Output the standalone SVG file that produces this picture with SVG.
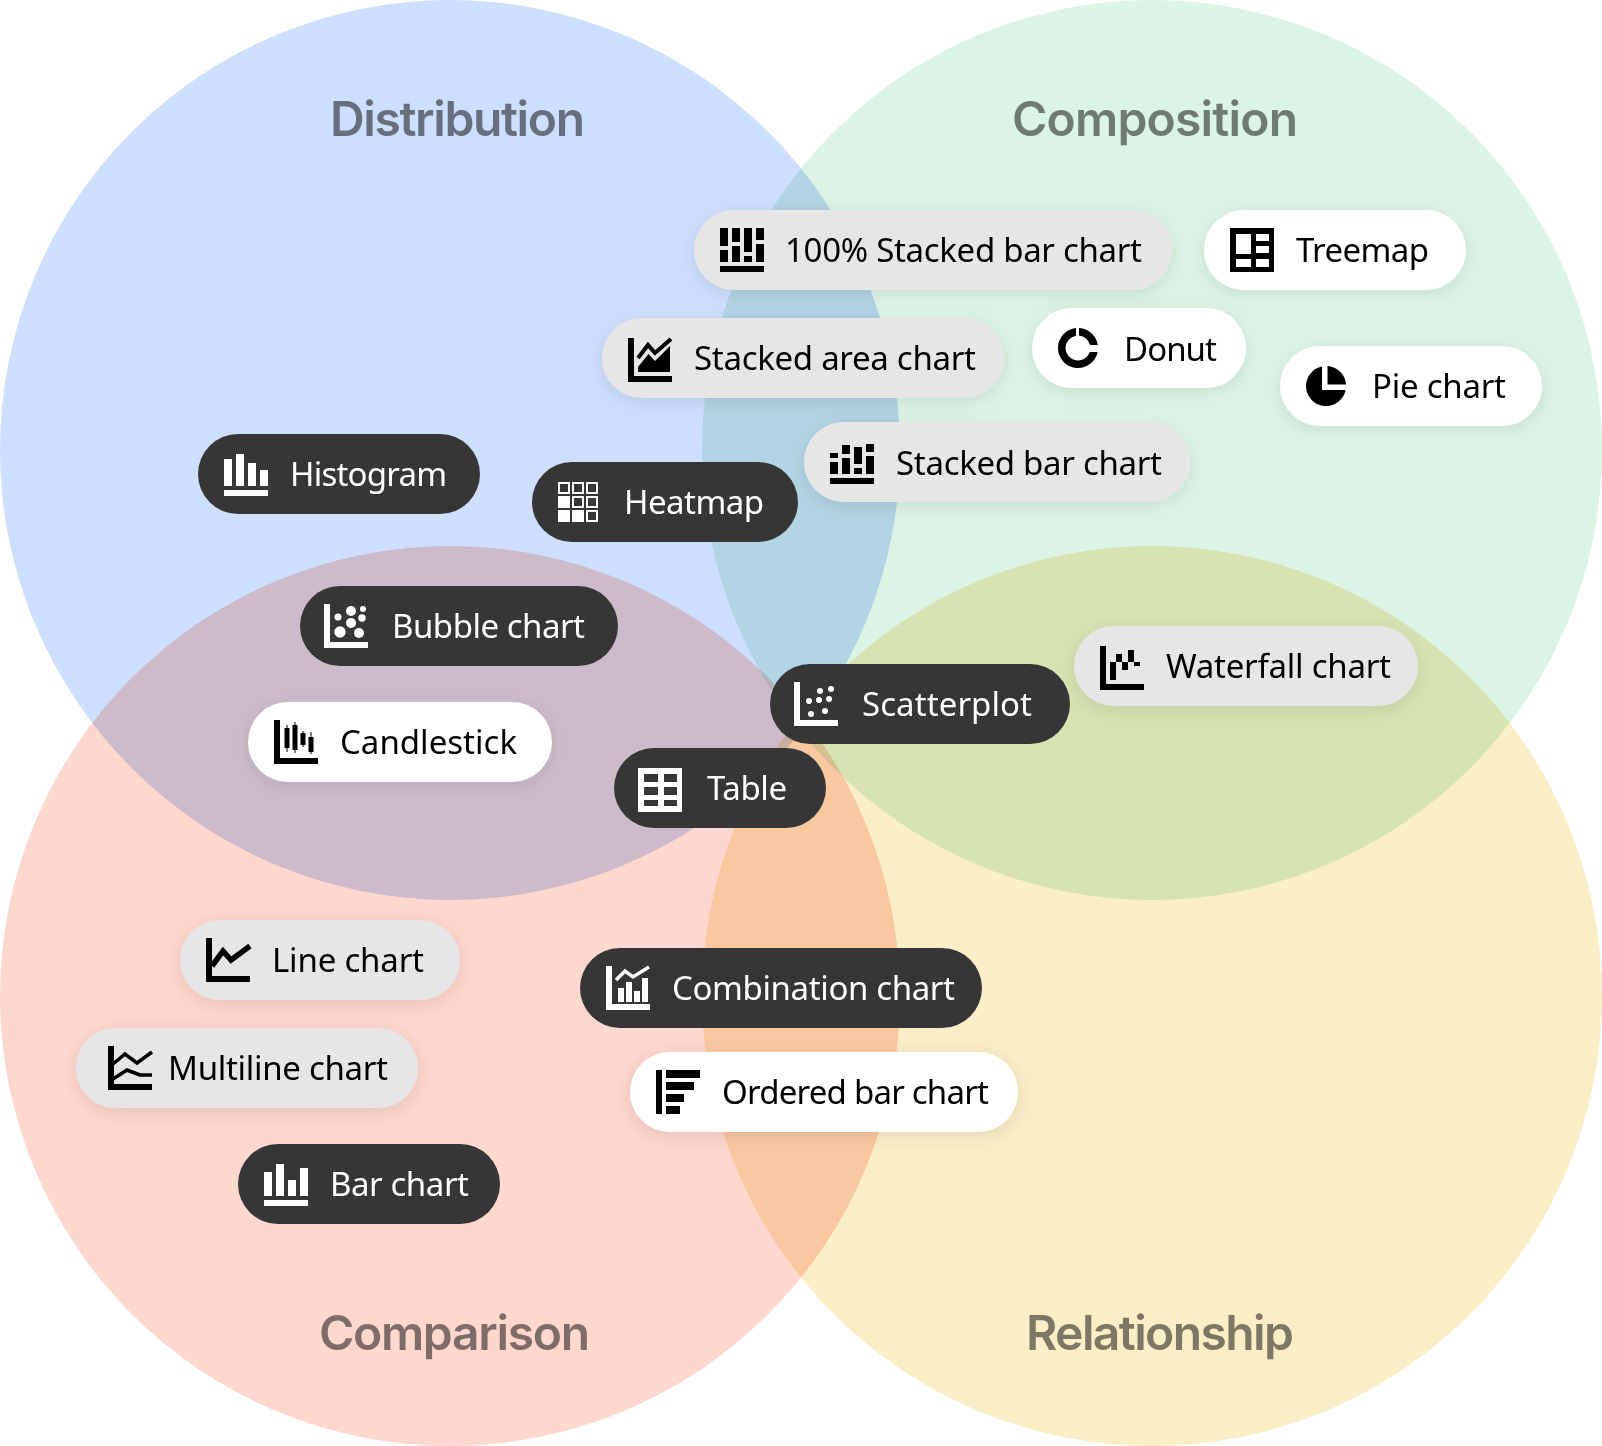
<svg xmlns="http://www.w3.org/2000/svg" width="1602" height="1446" viewBox="0 0 1602 1446">
<style>
.c{mix-blend-mode:multiply}
.t{font-family:"Inter","Liberation Sans",sans-serif;font-size:48px;font-weight:600;fill:#000;fill-opacity:.5}
.l{font-family:"Noto Sans","Liberation Sans",sans-serif;font-size:33px;font-weight:400}
.dark rect.p{fill:#363636}.dark{color:#fff}.dark .l{fill:#fff}
.gray rect.p{fill:#e6e6e6;filter:url(#sh)}.gray{color:#000}.gray .l{fill:#000}
.white rect.p{fill:#fff;filter:url(#sh)}.white{color:#000}.white .l{fill:#000}
.i{fill:currentColor}
.s{fill:none;stroke:currentColor}
</style>
<defs>
<filter id="sh" x="-20%" y="-50%" width="140%" height="200%"><feDropShadow dx="0" dy="4" stdDeviation="9" flood-color="#000" flood-opacity=".1"/></filter>
<path id="axis" d="M0 0h6v38h38v6H0z"/>
<symbol id="i100" viewBox="0 0 44 44" overflow="visible"><path class="i" d="M0 38h44v6H0zM0 0h8v18H0zM0 22h8v12H0zM12 0h8v14h-8zM12 18h8v16h-8zM24 0h8v24h-8zM24 28h8v6h-8zM36 0h8v12h-8zM36 16h8v18h-8z"/></symbol>
<symbol id="istack" viewBox="0 0 44 44" overflow="visible"><path class="i" d="M0 38h44v6H0zM0 13h8v5H0zM0 22h8v12H0zM12 5h8v9h-8zM12 18h8v16h-8zM24 7h8v17h-8zM24 28h8v6h-8zM36 4h8v8h-8zM36 16h8v18h-8z"/></symbol>
<symbol id="ihist" viewBox="0 0 44 44" overflow="visible"><path class="i" d="M0 38h44v6H0zM0 7h8v27H0zM12 2h8v32h-8zM24 11h8v23h-8zM36 18h8v16h-8z"/></symbol>
<symbol id="ibar" viewBox="0 0 44 44" overflow="visible"><path class="i" d="M0 38h44v6H0zM0 10h8v24H0zM12 2h8v32h-8zM24 18h8v16h-8zM36 6h8v28h-8z"/></symbol>
<symbol id="iheat" viewBox="0 0 40 40" overflow="visible"><g class="s" stroke-width="2"><rect x="1" y="1" width="10" height="10"/><rect x="15" y="1" width="10" height="10"/><rect x="29" y="1" width="10" height="10"/><rect x="15" y="15" width="10" height="10"/><rect x="29" y="15" width="10" height="10"/><rect x="29" y="29" width="10" height="10"/></g><path class="i" d="M0 14h12v12H0zM0 28h12v12H0zM14 28h12v12H14z"/></symbol>
<symbol id="itree" viewBox="0 0 44 44" overflow="visible"><path class="i" fill-rule="evenodd" d="M0 0h44v44H0zM6 6v20h15V6zM26 6v7h13V6zM26 18v7h13v-7zM6 31v8h15v-8zM26 31v8h13v-8z"/></symbol>
<symbol id="itable" viewBox="0 0 44 44" overflow="visible"><path class="i" fill-rule="evenodd" d="M0 0h44v44H0zM6 6v8h14V6zM26 6v8h13V6zM6 19v8h14v-8zM26 19v8h13v-8zM6 32v6h14v-6zM26 32v6h13v-6z"/></symbol>
<symbol id="ipie" viewBox="0 0 40 40" overflow="visible"><path class="i" d="M16 .4A20 20 0 1 0 39.6 24H16zM21.5 0A20 20 0 0 1 40 18.5H21.5z"/></symbol>
<symbol id="idonut" viewBox="0 0 40 40" overflow="visible"><path class="i" d="M21 0A20 20 0 0 1 39.77 17H32.1A12.5 12.5 0 0 0 21 7.54zM39.6 24A20 20 0 1 1 18 .1V7.66A12.5 12.5 0 1 0 31.84 24z"/></symbol>
<symbol id="iline" viewBox="0 0 44 44" overflow="visible"><use href="#axis" class="i"/><path class="s" stroke-width="5.500" d="M6 28 17 13l8 9L44 8"/></symbol>
<symbol id="imulti" viewBox="0 0 44 44" overflow="visible"><use href="#axis" class="i"/><path class="s" stroke-width="3.500" d="M5 18 17 8l12 9L44 6M5 33 19 24l13 5h12"/></symbol>
<symbol id="iarea" viewBox="0 0 44 44" overflow="visible"><use href="#axis" class="i"/><path class="i" d="M10 29 20.500 16l6.500 7L42 8v26H10z"/><path class="s" stroke-width="4" d="M10 20 20 7l7 8L43 1"/></symbol>
<symbol id="icombo" viewBox="0 0 44 44" overflow="visible"><use href="#axis" class="i"/><path class="i" d="M12 22h6v14h-6zM20 16h6v20h-6zM28 25h6v11h-6zM36 12h6v24h-6z"/><path class="s" stroke-width="3.500" d="M10 14 19 5l8 6L43 1"/></symbol>
<symbol id="iorder" viewBox="0 0 44 44" overflow="visible"><path class="i" d="M0 0h6v44H0zM10 0h34v8H10zM10 12h28v8H10zM10 24h18v8H10zM10 36h14v8H10z"/></symbol>
<symbol id="iwater" viewBox="0 0 44 44" overflow="visible"><use href="#axis" class="i"/><path class="i" d="M10 16h6v18h-6zM16 8h6v8h-6zM22 16h6v8h-6zM28 4h6v12h-6zM34 16h6v4h-6z"/></symbol>
<symbol id="iscat" viewBox="0 0 44 44" overflow="visible"><use href="#axis" class="i"/><g class="i"><circle cx="26" cy="9" r="3"/><circle cx="37" cy="7" r="3"/><circle cx="15" cy="19" r="3"/><circle cx="25" cy="18" r="3"/><circle cx="35" cy="17" r="3"/><circle cx="17" cy="32" r="3"/><circle cx="31" cy="29" r="3"/></g></symbol>
<symbol id="ibub" viewBox="0 0 44 44" overflow="visible"><use href="#axis" class="i"/><g class="i"><circle cx="27" cy="7" r="5"/><circle cx="39" cy="5" r="3"/><circle cx="14" cy="13" r="3.500"/><circle cx="38" cy="14" r="3.700"/><circle cx="27" cy="19" r="5"/><circle cx="16" cy="28" r="5.700"/><circle cx="35" cy="29" r="5"/></g></symbol>
<symbol id="icandle" viewBox="0 0 44 44" overflow="visible"><use href="#axis" class="i"/><path class="i" d="M12.500 5h1v3h2v20h-2v4h-1v-4h-2V8h2zM20.500 2h1v3h2v25h-2v3h-1v-3h-2V5h2zM28.500 11h1v2h2v12h-2v2h-1v-2h-2V13h2zM36.500 12h1v5h2v15h-2v2h-1v-2h-2V17h2z"/></symbol>
</defs>
<rect width="1602" height="1446" fill="#fff"/>
<g id="circles">
<circle class="c" cx="450" cy="450" r="450" fill="#cedefd"/>
<circle class="c" cx="1152" cy="450" r="450" fill="#dcf4e6"/>
<circle class="c" cx="450" cy="996" r="450" fill="#fed7ce"/>
<circle class="c" cx="1152" cy="996" r="450" fill="#faeec7"/>
</g>
<g id="titles">
<text class="t" x="330" y="136" textLength="255">Distribution</text>
<text class="t" x="1012" y="136" textLength="286">Composition</text>
<text class="t" x="319" y="1350" textLength="271">Comparison</text>
<text class="t" x="1026" y="1350" textLength="268">Relationship</text>
</g>
<g id="connectors"/>
<g id="n100" class="gray"><rect class="p" x="694" y="210" width="478" height="80" rx="40"/><use href="#i100" x="720" y="228" width="44" height="44"/><text class="l" x="785" y="262" textLength="357">100% Stacked bar chart</text></g>
<g id="treemap" class="white"><rect class="p" x="1204" y="210" width="262" height="80" rx="40"/><use href="#itree" x="1230" y="228" width="44" height="44"/><text class="l" x="1296" y="262" textLength="133">Treemap</text></g>
<g id="stackedarea" class="gray"><rect class="p" x="602" y="318" width="402" height="80" rx="40"/><use href="#iarea" x="628" y="338" width="44" height="44"/><text class="l" x="694" y="370" textLength="282">Stacked area chart</text></g>
<g id="donut" class="white"><rect class="p" x="1032" y="308" width="214" height="80" rx="40"/><use href="#idonut" x="1058" y="328" width="40" height="40"/><text class="l" x="1124" y="361" textLength="93">Donut</text></g>
<g id="pie" class="white"><rect class="p" x="1280" y="346" width="262" height="80" rx="40"/><use href="#ipie" x="1306" y="366" width="40" height="40"/><text class="l" x="1372" y="398" textLength="134">Pie chart</text></g>
<g id="stackedbar" class="gray"><rect class="p" x="804" y="422" width="386" height="80" rx="40"/><use href="#istack" x="830" y="440" width="44" height="44"/><text class="l" x="896" y="475" textLength="266">Stacked bar chart</text></g>
<g id="histogram" class="dark"><rect class="p" x="198" y="434" width="282" height="80" rx="40"/><use href="#ihist" x="224" y="452" width="44" height="44"/><text class="l" x="290" y="486" textLength="157">Histogram</text></g>
<g id="heatmap" class="dark"><rect class="p" x="532" y="462" width="266" height="80" rx="40"/><use href="#iheat" x="558" y="482" width="40" height="40"/><text class="l" x="624" y="514" textLength="140">Heatmap</text></g>
<g id="bubble" class="dark"><rect class="p" x="300" y="586" width="318" height="80" rx="40"/><use href="#ibub" x="324" y="604" width="44" height="44"/><text class="l" x="392" y="638" textLength="193">Bubble chart</text></g>
<g id="candlestick" class="white"><rect class="p" x="248" y="702" width="304" height="80" rx="40"/><use href="#icandle" x="274" y="720" width="44" height="44"/><text class="l" x="340" y="754" textLength="177">Candlestick</text></g>
<g id="waterfall" class="gray"><rect class="p" x="1074" y="626" width="344" height="80" rx="40"/><use href="#iwater" x="1100" y="646" width="44" height="44"/><text class="l" x="1166" y="678" textLength="225">Waterfall chart</text></g>
<g id="scatterplot" class="dark"><rect class="p" x="770" y="664" width="300" height="80" rx="40"/><use href="#iscat" x="794" y="682" width="44" height="44"/><text class="l" x="862" y="716" textLength="170">Scatterplot</text></g>
<g id="table" class="dark"><rect class="p" x="614" y="748" width="212" height="80" rx="40"/><use href="#itable" x="638" y="768" width="44" height="44"/><text class="l" x="707" y="800" textLength="80">Table</text></g>
<g id="linechart" class="gray"><rect class="p" x="180" y="920" width="280" height="80" rx="40"/><use href="#iline" x="206" y="938" width="44" height="44"/><text class="l" x="272" y="972" textLength="152">Line chart</text></g>
<g id="multiline" class="gray"><rect class="p" x="76" y="1028" width="342" height="80" rx="40"/><use href="#imulti" x="108" y="1046" width="44" height="44"/><text class="l" x="168" y="1080" textLength="220">Multiline chart</text></g>
<g id="barchart" class="dark"><rect class="p" x="238" y="1144" width="262" height="80" rx="40"/><use href="#ibar" x="264" y="1162" width="44" height="44"/><text class="l" x="330" y="1196" textLength="139">Bar chart</text></g>
<g id="combination" class="dark"><rect class="p" x="580" y="948" width="402" height="80" rx="40"/><use href="#icombo" x="606" y="966" width="44" height="44"/><text class="l" x="672" y="1000" textLength="283">Combination chart</text></g>
<g id="ordered" class="white"><rect class="p" x="630" y="1052" width="388" height="80" rx="40"/><use href="#iorder" x="656" y="1070" width="44" height="44"/><text class="l" x="722" y="1104" textLength="267">Ordered bar chart</text></g>
</svg>
